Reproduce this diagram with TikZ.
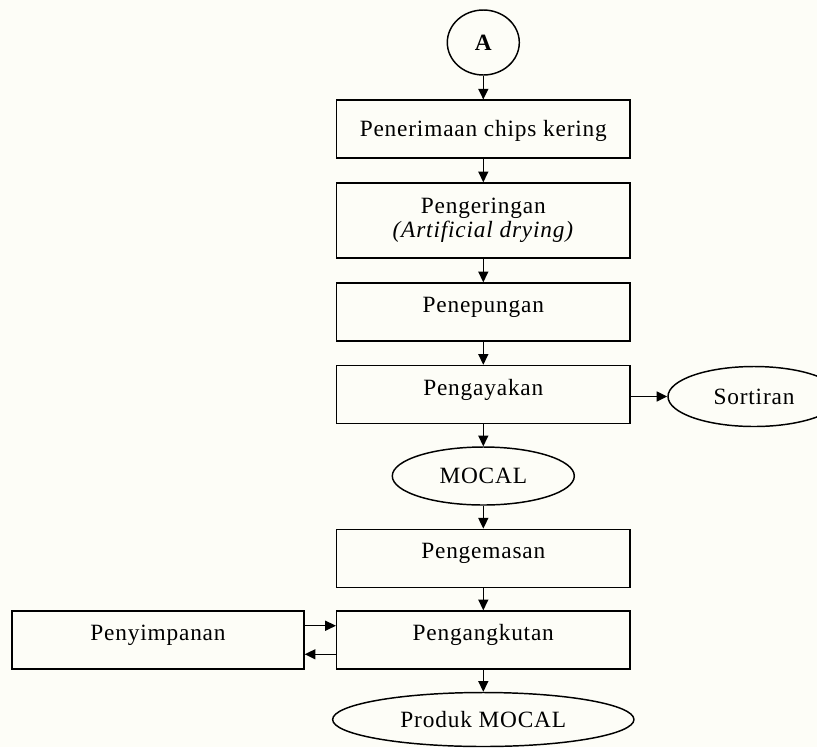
\documentclass[tikz,border=0pt]{standalone}
\usepackage{fontspec}
\setmainfont{Liberation Serif}[LetterSpace=3.5]
\usetikzlibrary{shapes.geometric,arrows.meta,calc}
\definecolor{bgcream}{RGB}{253,253,247}
\begin{document}
\begin{tikzpicture}[x=0.75pt,y=-0.75pt,
  every node/.style={font=\fontsize{17.5}{18}\selectfont},
  boxbase/.style={draw,line width=1.1pt,rectangle,minimum width=220pt,minimum height=43.5pt,inner sep=0pt},
  box/.style={boxbase,text height=11pt,text depth=10pt},
  oval/.style={draw,line width=1.1pt,ellipse,inner sep=0pt},
  arr/.style={line width=1.1pt,-{Triangle[length=8pt,width=7.5pt]}}]
\fill[bgcream] (0,0) rectangle (817,747);
\clip (0,0) rectangle (817,747);
\useasboundingbox (0,0) rectangle (817,747);

\node[oval,minimum width=54pt,minimum height=48.75pt,font=\fontsize{17.5}{18}\selectfont\bfseries] (A) at (483.3,42.5) {A};
\node[box,text depth=0pt] (b1) at (483.3,129.2) {Penerimaan chips kering};
\node[boxbase,minimum height=56.25pt,align=center] (b2) at (483.3,220.5) {Pengeringan\\\textit{(Artificial drying)}};
\node[box] (b3) at (483.3,312) {Penepungan};
\node[box] (b4) at (483.3,394.5) {Pengayakan};
\node[oval,minimum width=129pt,minimum height=45pt] (sort) at (754,396.5) {Sortiran};
\node[oval,minimum width=136.5pt,minimum height=43.5pt] (mocal) at (483.3,476) {MOCAL};
\node[box] (b5) at (483.3,558.3) {Pengemasan};
\node[box] (b6) at (483.3,640) {Pengangkutan};
\node[box,minimum width=219pt] (peny) at (158,640) {Penyimpanan};
\node[oval,minimum width=226pt,minimum height=40.5pt] (produk) at (483.3,719.5) {Produk MOCAL};

\draw[arr] (A) -- (b1);
\draw[arr] (b1) -- (b2);
\draw[arr] (b2) -- (b3);
\draw[arr] (b3) -- (b4);
\draw[arr] (b4.east |- sort.west) -- (sort.west);
\draw[arr] (b4) -- (mocal);
\draw[arr] (mocal) -- (b5);
\draw[arr] (b5) -- (b6);
\draw[arr] (b6) -- (produk);
\draw[arr] ($(peny.north east)!0.26!(peny.south east)$) -- ($(b6.north west)!0.26!(b6.south west)$);
\draw[arr] ($(b6.north west)!0.74!(b6.south west)$) -- ($(peny.north east)!0.74!(peny.south east)$);
\end{tikzpicture}
\end{document}
